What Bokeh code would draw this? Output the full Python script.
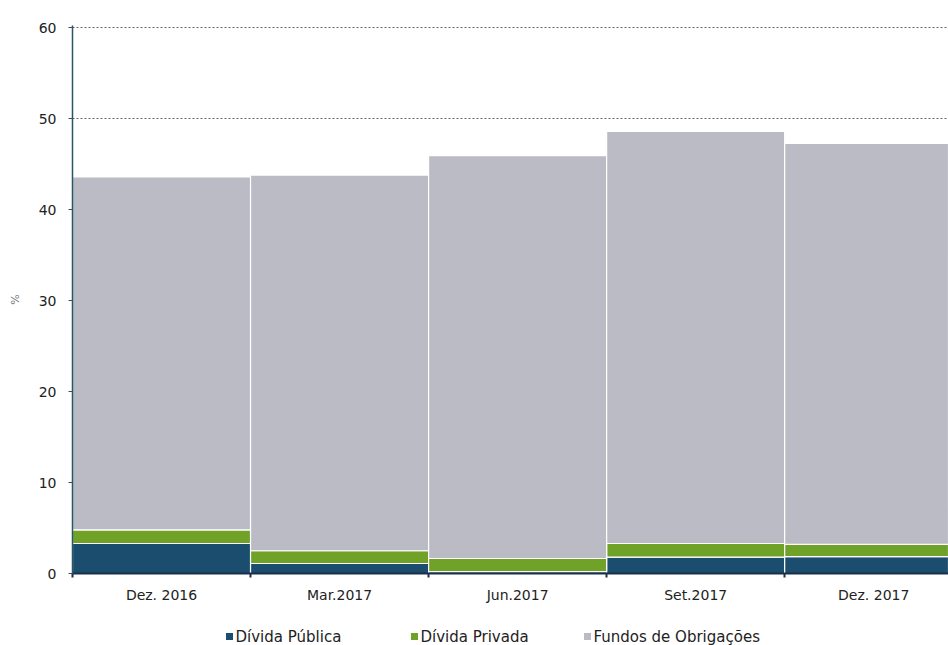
from bokeh.plotting import figure
from bokeh.layouts import column
from bokeh.models import ColumnDataSource, FixedTicker, Range1d
from bokeh.core.properties import value
from bokeh.embed import file_html
from bokeh.resources import INLINE

# Quarter labels and stacked shares (%)
periods = ["Dez. 2016", "Mar.2017", "Jun.2017", "Set.2017", "Dez. 2017"]
divida_publica = [3.3, 1.1, 0.2, 1.8, 1.85]
divida_privada = [1.5, 1.4, 1.45, 1.5, 1.35]
fundos_obrigacoes = [38.8, 41.3, 44.3, 45.3, 44.1]

series_names = ["Dívida Pública", "Dívida Privada", "Fundos de Obrigações"]
colors = ["#1b4d6e", "#6fa227", "#babbc5"]

centers = [i + 0.5 for i in range(len(periods))]
bounds = [float(i) for i in range(len(periods) + 1)]

src = ColumnDataSource(dict(
    x=centers,
    pub=divida_publica,
    priv=divida_privada,
    fund=fundos_obrigacoes,
))

# Main stacked-bar panel
p = figure(width=948, height=618, output_backend="svg", toolbar_location=None,
           x_range=Range1d(0, 4.92), y_range=Range1d(0, 60.25),
           min_border_left=72, min_border_right=0, min_border_top=25,
           min_border_bottom=45)
p.outline_line_color = None
p.background_fill_color = "white"

p.vbar_stack(["pub", "priv", "fund"], x="x", width=1.0, source=src,
             fill_color=colors, line_color="white", line_width=1.2)

p.xaxis.ticker = FixedTicker(ticks=centers, minor_ticks=bounds)
p.xaxis.major_label_overrides = {c: lab for c, lab in zip(centers, periods)}
p.xaxis.major_tick_line_color = None
p.xaxis.major_tick_in = 0
p.xaxis.major_tick_out = 4
p.xaxis.minor_tick_in = 0
p.xaxis.minor_tick_out = 4
p.xaxis.minor_tick_line_color = "#1a2f4a"
p.xaxis.minor_tick_line_width = 2
p.xaxis.axis_line_color = "#1a2f4a"
p.xaxis.axis_line_width = 2
p.xaxis.major_label_text_font = "DejaVu Sans"
p.xaxis.major_label_text_font_size = "14px"
p.xaxis.major_label_text_color = "#222222"
p.xaxis.major_label_standoff = 9

p.yaxis.ticker = FixedTicker(ticks=[0, 10, 20, 30, 40, 50, 60])
p.yaxis.minor_tick_line_color = None
p.yaxis.major_tick_in = 0
p.yaxis.major_tick_out = 4
p.yaxis.major_tick_line_color = "#3d4f5c"
p.yaxis.axis_line_color = "#2a5566"
p.yaxis.axis_line_width = 1.5
p.yaxis.major_label_text_font = "DejaVu Sans"
p.yaxis.major_label_text_font_size = "14px"
p.yaxis.major_label_text_color = "#222222"
p.yaxis.major_label_standoff = 12
p.yaxis.axis_label = "%"
p.yaxis.axis_label_text_font = "DejaVu Sans"
p.yaxis.axis_label_text_font_size = "11px"
p.yaxis.axis_label_text_font_style = "normal"
p.yaxis.axis_label_text_color = "#777777"
p.yaxis.axis_label_standoff = 14

p.xgrid.grid_line_color = None
p.ygrid.grid_line_color = "#666666"
p.ygrid.grid_line_dash = "2 2"
p.ygrid.grid_line_width = 1

# Legend strip underneath; its frame lines up with the main frame (72 px to 948 px),
# so the x range spans the same pixel interval to keep units equal to page pixels.
leg = figure(width=948, height=27, output_backend="svg", toolbar_location=None,
             x_range=Range1d(72, 948), y_range=Range1d(0, 27),
             min_border=0)
leg.axis.visible = False
leg.grid.visible = False
leg.outline_line_color = None

item_x = [229, 414, 587]
leg_src = ColumnDataSource(dict(
    x=item_x,
    tx=[x + 6 for x in item_x],
    y=[9] * len(series_names),
    name=series_names,
    color=colors,
))
leg.scatter(x="x", y="y", marker="square", size=7, fill_color="color",
            line_color=None, source=leg_src)
leg.text(x="tx", y="y", text="name", source=leg_src,
         text_font=value("DejaVu Sans"), text_font_size="15px",
         text_color="#222222", text_baseline="middle", text_align="left")

layout = column(p, leg, spacing=0)

open("out.html", "w").write(file_html(layout, INLINE))
